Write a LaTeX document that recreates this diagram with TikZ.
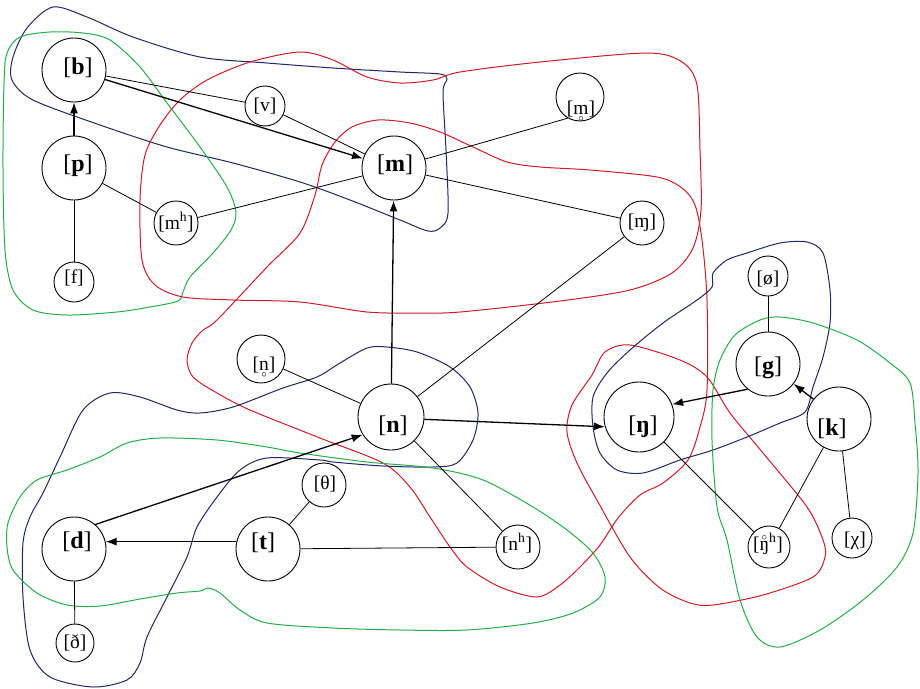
\documentclass[tikz,border=0pt]{standalone}
\usepackage{fontspec}
\setmainfont{Liberation Serif}
\usetikzlibrary{arrows.meta}
\definecolor{navyc}{RGB}{32,38,104}
\definecolor{redc}{RGB}{204,28,38}
\definecolor{greenc}{RGB}{38,172,72}
\newcommand\ringbelowx[1]{\setbox0\hbox{#1}\copy0\llap{\hbox to\wd0{\hss\raisebox{-0.36em}[0pt][0pt]{\fontsize{11}{11}\selectfont$\circ$}\hss}}}
\newcommand\ringabovex[1]{\setbox0\hbox{#1}\copy0\llap{\hbox to\wd0{\hss\raisebox{0.5em}[0pt][0pt]{\fontsize{11}{11}\selectfont$\circ$}\hss}}}
\tikzset{
  bignode/.style={circle, draw, line width=0.9pt, minimum size=64pt, inner sep=0pt},
  smallnode/.style={circle, draw, line width=0.9pt, inner sep=0pt},
  biglab/.style={font=\fontsize{24}{24}\selectfont, inner sep=0pt},
  smalllab/.style={font=\fontsize{19.5}{19.5}\selectfont, inner sep=0pt},
  link/.style={line width=0.8pt},
  arr/.style={line width=1.3pt, -{Latex[length=11pt,width=8pt]}},
  blob/.style={line width=1pt},
}
\begin{document}
\begin{tikzpicture}[x=1pt,y=-1pt]
\useasboundingbox (0,0) rectangle (920,688);

% ---------- blobs ----------
\draw[blob, navyc] plot[smooth cycle, tension=0.5] coordinates {
 (53,7) (87,17) (133,37) (200,57) (267,63) (333,68) (400,72) (440,74) (447,79) (443,92)
 (446,150) (448,213) (440,228) (428,231) (400,220) (350,200) (300,182) (233,163)
 (167,147) (100,125) (33,100) (12,80) (13,57) (27,28)};
\draw[blob, greenc] plot[smooth cycle, tension=0.5] coordinates {
 (7,53) (20,37) (50,32) (83,33) (110,40) (140,67) (167,103) (200,147) (227,187)
 (236,212) (231,230) (213,253) (190,277) (183,292) (178,301) (150,307) (117,312)
 (67,315) (33,310) (13,290) (5,250) (3,167) (4,83)};
\draw[blob, redc] plot[smooth cycle, tension=0.5] coordinates {
 (300,52) (333,60) (367,77) (400,83) (433,80) (460,72) (540,62) (647,53) (682,62)
 (697,85) (700,150) (701,210) (693,248) (672,273) (630,290) (560,301) (460,312)
 (417,313) (367,312) (300,302) (233,300) (183,297) (155,285) (142,260) (140,200)
 (145,155) (160,125) (180,100) (207,80) (250,62)};
\draw[blob, redc] plot[smooth cycle, tension=0.5] coordinates {
 (217,320) (267,267) (300,233) (315,195) (322,165) (335,142) (352,127) (378,120)
 (410,123) (440,132) (473,147) (507,162) (540,167) (590,170) (657,177) (682,188)
 (695,205) (702,240) (707,300) (707,390) (700,427) (688,460) (663,483) (640,495)
 (618,518) (600,545) (580,567) (560,585) (537,597) (500,587) (467,567) (450,547)
 (430,517) (410,487) (383,463) (320,438) (250,410) (217,393) (193,377) (187,360)
 (192,343) (203,330)};
\draw[blob, redc] plot[smooth cycle, tension=0.5] coordinates {
 (630,345) (605,352) (592,375) (572,405) (567,432) (577,463) (598,502) (630,557)
 (660,588) (690,603) (713,605) (763,595) (813,577) (825,557) (823,540) (807,507)
 (763,453) (730,413) (707,377) (680,360)};
\draw[blob, navyc] plot[smooth cycle, tension=0.5] coordinates {
 (713,273) (727,260) (747,253) (780,243) (807,242) (823,253) (830,290) (830,323)
 (823,357) (813,387) (805,412) (780,423) (747,437) (713,450) (680,460) (643,473)
 (617,470) (600,453) (593,427) (593,397) (607,373) (630,350) (663,323) (697,300)
 (712,287)};
\draw[blob, greenc] plot[smooth cycle, tension=0.5] coordinates {
 (760,320) (780,317) (813,323) (857,340) (890,363) (910,383) (915,423) (918,473)
 (913,533) (897,567) (863,600) (820,630) (780,647) (757,637) (740,600) (727,540)
 (717,507) (712,440) (713,390) (720,360) (735,335)};
\draw[blob, navyc] plot[smooth cycle, tension=0.5] coordinates {
 (320,460) (267,458) (240,470) (217,497) (197,527) (187,557) (167,597) (147,637)
 (140,663) (127,680) (93,687) (50,677) (30,650) (23,597) (23,543) (30,517) (43,493)
 (60,457) (83,410) (110,393) (140,397) (177,410) (200,413) (233,407) (283,388)
 (317,377) (340,363) (367,348) (387,347) (417,352) (450,367) (470,387) (478,413)
 (473,440) (457,463) (433,467) (383,466) (333,462)};
\draw[blob, greenc] plot[smooth cycle, tension=0.5] coordinates {
 (300,453) (367,462) (433,468) (483,480) (533,507) (567,530) (593,553) (605,577)
 (600,597) (573,613) (533,623) (467,630) (400,630) (333,628) (267,623) (240,610)
 (220,593) (208,588) (200,591) (177,593) (140,599) (100,606) (67,605) (37,593)
 (13,570) (7,547) (8,523) (20,497) (37,480) (67,470) (100,457) (127,443) (160,438)
 (217,440) (267,447)};

% ---------- nodes ----------
\node[bignode, label={[biglab, xshift=4pt, yshift=2pt]center:[\textbf{b}]}] (b) at (74,70) {};
\node[bignode, label={[biglab, xshift=4pt, yshift=2pt]center:[\textbf{p}]}] (p) at (74,168) {};
\node[smallnode, minimum size=40pt, label={[smalllab, yshift=4pt]center:[f]}] (f) at (74,282) {};
\node[smallnode, minimum size=40pt, label={[smalllab]center:[v]}] (v) at (265,106) {};
\node[smallnode, minimum size=44pt, label={[smalllab, yshift=1pt]center:[m\textsuperscript{h}]}] (mh) at (176,223) {};
\node[bignode, label={[biglab, xshift=1pt, yshift=3pt]center:[\textbf{m}]}] (m) at (394,168) {};
\node[smallnode, minimum size=48pt, label={[smalllab, xshift=1pt, yshift=-12pt]center:[\ringbelowx{m}]}] (mr) at (580,97) {};
\node[smallnode, minimum size=44pt, label={[smalllab]center:[ɱ]}] (mv) at (642,223) {};
\node[smallnode, minimum size=48pt, label={[smalllab, xshift=3pt, yshift=-6pt]center:[\ringbelowx{n}]}] (nr) at (261,359) {};
\node[bignode, minimum size=66pt, label={[biglab, xshift=2pt, yshift=-9pt]center:[\textbf{n}]}] (n) at (391,417) {};
\node[bignode, minimum size=70pt, label={[biglab, xshift=4pt, yshift=-10pt]center:[\textbf{ŋ}]}] (ng) at (639,417) {};
\node[smallnode, minimum size=40pt, label={[smalllab, yshift=-3pt]center:[ø]}] (oe) at (768,276) {};
\node[bignode, label={[biglab, yshift=-4pt]center:[\textbf{g}]}] (g) at (768,364) {};
\node[bignode, label={[biglab, xshift=-7pt, yshift=-10pt]center:[\textbf{k}]}] (k) at (839,419) {};
\node[smallnode, minimum size=42pt, label={[smalllab, xshift=-1pt, yshift=3pt]center:[\ringabovex{ŋ}\textsuperscript{h}]}] (ngh) at (769,547) {};
\node[smallnode, minimum size=40pt, label={[smalllab, xshift=3pt, yshift=-3pt]center:[χ]}] (chi) at (852,538) {};
\node[smallnode, minimum size=44pt, label={[smalllab, xshift=1pt, yshift=1pt]center:[θ]}] (th) at (324,485) {};
\node[bignode, label={[biglab, xshift=-5pt, yshift=6pt]center:[\textbf{t}]}] (t) at (268,549) {};
\node[bignode, label={[biglab, xshift=3pt, yshift=7pt]center:[\textbf{d}]}] (d) at (74,549) {};
\node[smallnode, minimum size=38pt, label={[smalllab]center:[ð]}] (dh) at (75,643) {};
\node[smallnode, minimum size=44pt, label={[smalllab, xshift=-1pt, yshift=4pt]center:[n\textsuperscript{h}]}] (nh) at (518,547) {};

% ---------- connectors ----------
\draw[arr] (p) -- (b);
\draw[arr] (b) -- (m);
\draw[link] (b) -- (v);
\draw[link] (v) -- (m);
\draw[link] (p) -- (mh);
\draw[link] (mh) -- (m);
\draw[link] (p) -- (f);
\draw[link] (m) -- (mr.240);
\draw[link] (m) -- (mv);
\draw[arr] (n) -- (m);
\draw[link] (n) -- (mv);
\draw[link] (nr) -- (n);
\draw[arr] (n.-4) -- (ng.196);
\draw[link] (n) -- (nh);
\draw[arr] (d.49) -- (n.212);
\draw[arr] (t.167) -- (d.13);
\draw[link] (t) -- (th);
\draw[link] (t) -- (nh);
\draw[link] (d) -- (dh);
\draw[arr] (g.231) -- (ng.21);
\draw[arr] (k) -- (g);
\draw[link] (g) -- (oe);
\draw[link] (ng) -- (ngh);
\draw[link] (k) -- (ngh);
\draw[link] (k) -- (chi);
\end{tikzpicture}
\end{document}
